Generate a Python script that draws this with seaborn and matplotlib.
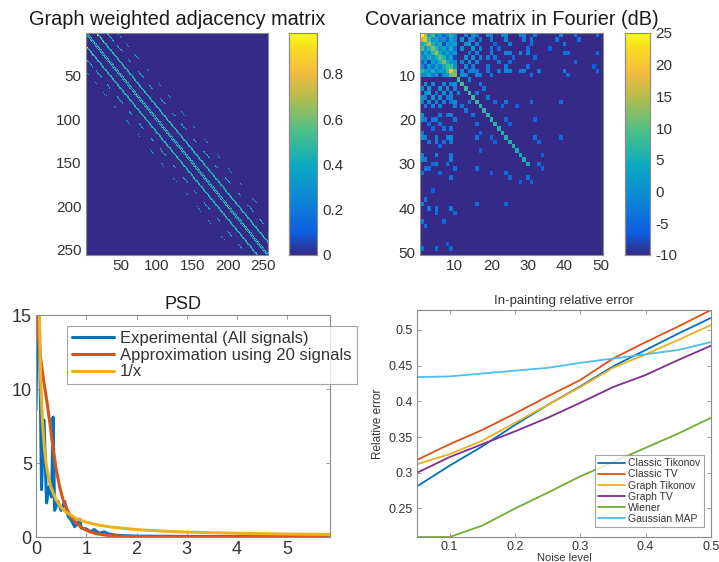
import numpy as np
import matplotlib
matplotlib.use("Agg")
import matplotlib.pyplot as plt
import seaborn as sns
from matplotlib.colors import LinearSegmentedColormap

sns.set_theme(style="white")
plt.rcParams["font.family"] = ["Liberation Sans", "DejaVu Sans"]

TXT = "#333333"
EDGE = "#8c8c8c"

# MATLAB-like parula colormap
parula = LinearSegmentedColormap.from_list("parula", [
    (0.00, (0.2081, 0.1663, 0.5292)),
    (0.10, (0.0600, 0.3700, 0.8800)),
    (0.25, (0.0500, 0.5200, 0.8400)),
    (0.40, (0.0400, 0.6600, 0.7600)),
    (0.55, (0.2800, 0.7500, 0.5500)),
    (0.70, (0.6800, 0.7400, 0.3200)),
    (0.82, (0.9600, 0.7300, 0.2400)),
    (0.92, (0.9700, 0.8500, 0.1500)),
    (1.00, (0.9763, 0.9831, 0.0538)),
])

# ---------------- graph weighted adjacency matrix ----------------
n_nodes = 256
band_offsets = [1, 2, 14, 15, 16, 29, 30, 44]
band_weights = [0.50, 0.35, 0.40, 0.52, 0.36, 0.45, 0.30, 0.42]
full = [(0, 256)]
dash_29 = [(0, 10), (14, 22), (30, 34), (44, 52), (60, 64), (75, 82), (92, 96), (104, 112),
           (122, 126), (136, 144), (152, 156), (166, 174), (184, 188), (198, 206), (214, 220)]
dash_44 = [(0, 6), (12, 16), (24, 30), (40, 44), (56, 62), (72, 76), (90, 96), (106, 110),
           (122, 128), (140, 144), (156, 162), (172, 176), (190, 196)]
band_segments = [full, full, full, full, full, dash_29, dash_29, dash_44]
# a few strong links among the first nodes
strong_links = [(2, 16, 0.98), (5, 20, 0.82), (1, 31, 0.78), (9, 24, 0.80)]

adj = np.zeros((n_nodes, n_nodes))
for off, w, segs in zip(band_offsets, band_weights, band_segments):
    for a, b in segs:
        for r in range(a, min(b, n_nodes - off)):
            adj[r, r + off] = w
            adj[r + off, r] = w
for i, j, w in strong_links:
    adj[i, j] = adj[j, i] = w

adj_ticks = [50, 100, 150, 200, 250]
adj_cbar_ticks = [0, 0.2, 0.4, 0.6, 0.8]

# ---------------- covariance matrix in Fourier (dB) ----------------
cov_n = 50
cov_floor = -10.0
cov_diag = [23, 18, 15, 12, 14, 10, 12, 9, 19, 13,
            9, 9, 8, 8, 8, 8, 7, 7, 7, 7,
            7, 6, 6, 6, 6, 6, 5, 5, 5, 5]
# upper triangle of the low-frequency 10x10 block (row i, columns i+1..10)
cov_block_upper = [
    [16, 4, 9, -3, 2, -6, 0, 6, 1],
    [8, 2, 4, -2, 1, -7, 3, -1],
    [6, 0, 5, -8, 2, 0, 4],
    [7, 1, 3, -3, 5, -4],
    [5, 0, 4, -2, 2],
    [6, -2, 3, -8],
    [5, 1, 0],
    [8, 2],
    [11],
]
# remaining couplings (i, j, dB), 1-based, mirrored across the diagonal
cov_links = [
    (1, 13, -1), (1, 15, 1), (1, 16, -2), (1, 19, 0), (1, 20, -1), (1, 23, -2), (1, 24, 0),
    (1, 28, -1), (1, 29, -1), (1, 32, -3), (1, 39, -1), (1, 43, -3), (1, 49, -4),
    (2, 12, 2), (2, 14, 0), (2, 15, -1), (2, 17, -2), (2, 20, -2), (2, 24, -1), (2, 29, -2),
    (2, 31, -3), (2, 38, -3), (2, 44, -4),
    (3, 13, 1), (3, 14, 3), (3, 16, 0), (3, 21, -5), (3, 25, -3), (3, 31, -4), (3, 40, -3),
    (4, 12, 0), (4, 15, 2), (4, 17, -1), (4, 20, -3), (4, 22, -5), (4, 30, -5), (4, 36, -6),
    (5, 14, -3), (5, 16, -1), (5, 20, -2), (5, 24, -1), (5, 25, -2), (5, 28, -1), (5, 30, -2),
    (5, 40, -3), (5, 41, -4), (5, 49, -4),
    (6, 13, 1), (6, 15, 0), (6, 17, -1), (6, 19, -2), (6, 21, -3), (6, 26, -5), (6, 32, -5),
    (7, 12, -1), (7, 14, 1), (7, 16, -1), (7, 22, -3), (7, 25, -4), (7, 43, -5),
    (8, 13, 0), (8, 15, -2), (8, 19, -3), (8, 24, -2), (8, 30, -4), (8, 48, -6),
    (9, 12, -1), (9, 14, -2), (9, 15, -1), (9, 16, -3), (9, 19, -2), (9, 22, -3), (9, 24, -1),
    (9, 25, -2), (9, 28, -3), (9, 29, -2), (9, 33, -3), (9, 40, -2), (9, 49, -5),
    (10, 12, 1), (10, 13, -1), (10, 16, 0), (10, 17, -2), (10, 20, -3), (10, 31, -4), (10, 41, -5),
    (11, 14, -1), (12, 17, -2), (13, 18, -3), (14, 16, -2), (15, 19, -3),
    (16, 21, -4), (16, 24, -3), (16, 31, -4), (16, 39, -4), (17, 23, -5), (17, 27, -6),
    (20, 24, -5), (20, 32, -6), (21, 25, -6), (24, 32, -4), (24, 39, -5),
    (25, 33, -5), (28, 34, -6), (30, 33, -4), (31, 34, -5),
]
cov_ticks = [10, 20, 30, 40, 50]
cov_cbar_ticks = [-10, -5, 0, 5, 10, 15, 20, 25]

cov = np.full((cov_n, cov_n), cov_floor)
for k, v in enumerate(cov_diag):
    cov[k, k] = v
for i, row in enumerate(cov_block_upper):
    for dj, v in enumerate(row):
        j = i + 1 + dj
        cov[i, j] = cov[j, i] = v
for i, j, v in cov_links:
    cov[i - 1, j - 1] = cov[j - 1, i - 1] = v
cov[0, 0] = 25

# ---------------- PSD ----------------
psd_exp_x = [0.00, 0.03, 0.07, 0.11, 0.16, 0.21, 0.26, 0.31, 0.34, 0.37, 0.44, 0.50,
             0.57, 0.64, 0.70, 0.77, 0.84, 0.87, 0.90, 1.00, 1.08, 1.16, 1.26, 1.36,
             1.45, 1.60, 1.80, 2.00, 2.50, 3.00, 4.00, 5.00, 5.85]
psd_exp_y = [8.6, 16.0, 14.0, 3.2, 7.9, 2.3, 3.4, 2.7, 8.1, 1.8, 2.4, 1.8,
             2.4, 1.4, 1.15, 0.7, 1.0, 1.2, 0.6, 0.55, 0.35, 0.5, 0.25, 0.35,
             0.2, 0.12, 0.08, 0.06, 0.05, 0.04, 0.03, 0.02, 0.02]
psd_fit_x = [0.00, 0.04, 0.08, 0.15, 0.22, 0.28, 0.34, 0.40, 0.47, 0.54, 0.62, 0.70,
             0.80, 0.92, 1.05, 1.20, 1.40, 1.60, 1.80, 2.20, 3.00, 4.00, 5.00, 5.85]
psd_fit_y = [16.5, 14.0, 12.4, 10.6, 9.1, 7.6, 6.0, 4.6, 3.4, 2.5, 1.85, 1.35,
             0.95, 0.6, 0.38, 0.22, 0.12, 0.07, 0.04, 0.02, 0.01, 0.01, 0.01, 0.01]
psd_inv_x = [0.06, 0.08, 0.10, 0.13, 0.17, 0.20, 0.25, 0.30, 0.40, 0.50, 0.60, 0.80,
             1.00, 1.25, 1.50, 2.00, 2.50, 3.00, 4.00, 5.00, 5.85]
psd_inv_y = [16.7, 12.5, 10.0, 7.69, 5.88, 5.0, 4.0, 3.33, 2.5, 2.0, 1.67, 1.25,
             1.0, 0.8, 0.67, 0.5, 0.4, 0.33, 0.25, 0.2, 0.17]
psd_labels = ["Experimental (All signals)", "Approximation using 20 signals", "1/x"]

# ---------------- in-painting relative error ----------------
noise_levels = [0.05, 0.10, 0.15, 0.20, 0.25, 0.30, 0.35, 0.40, 0.45, 0.50]
err_classic_tikonov = [0.281, 0.310, 0.337, 0.367, 0.395, 0.421, 0.449, 0.472, 0.495, 0.517]
err_classic_tv = [0.318, 0.340, 0.360, 0.383, 0.407, 0.430, 0.460, 0.483, 0.505, 0.528]
err_graph_tikonov = [0.312, 0.326, 0.345, 0.370, 0.395, 0.420, 0.447, 0.466, 0.486, 0.507]
err_graph_tv = [0.300, 0.322, 0.340, 0.358, 0.377, 0.398, 0.420, 0.437, 0.458, 0.478]
err_wiener = [0.210, 0.210, 0.226, 0.250, 0.272, 0.295, 0.315, 0.335, 0.355, 0.377]
err_gaussian_map = [0.434, 0.435, 0.439, 0.443, 0.447, 0.454, 0.460, 0.466, 0.472, 0.483]
method_names = ["Classic Tikonov", "Classic TV", "Graph Tikonov", "Graph TV", "Wiener", "Gaussian MAP"]
method_errors = [err_classic_tikonov, err_classic_tv, err_graph_tikonov, err_graph_tv,
                 err_wiener, err_gaussian_map]

matlab_colors = ["#0072BD", "#D95319", "#EDB120", "#7E2F8E", "#77AC30", "#4DBEEE"]

# ---------------- figure ----------------
W, H = 719, 562
fig = plt.figure(figsize=(W / 100, H / 100), dpi=100)


def place(left, top, right, bottom):
    return fig.add_axes([left / W, 1 - bottom / H, (right - left) / W, (bottom - top) / H])


def style_box(ax, size, mirror=True):
    for s in ax.spines.values():
        s.set_visible(True)
        s.set_color(EDGE)
        s.set_linewidth(0.8)
    ax.tick_params(direction="in", length=3, width=0.6, color=EDGE, labelsize=size,
                   labelcolor=TXT, top=mirror, right=mirror, bottom=True, left=True,
                   labeltop=False, labelright=False, pad=3)


def style_cbar(cax, ticks, size):
    cax.set_yticks(ticks)
    cax.set_yticklabels([f"{t:g}" for t in ticks])
    cax.tick_params(direction="in", length=3, width=0.6, color=EDGE, labelsize=size,
                    labelcolor=TXT, right=True, left=False, labelright=True, pad=4)
    for s in cax.spines.values():
        s.set_visible(True)
        s.set_color(EDGE)
        s.set_linewidth(0.8)


ax1 = place(86, 33, 268, 255)
cax1 = place(289, 33, 317, 255)
ax2 = place(420, 33, 603, 255)
cax2 = place(625, 33, 650, 255)
ax3 = place(36, 315, 330, 537)
ax4 = place(417, 310, 711, 537)

# adjacency heatmap
sns.heatmap(adj, ax=ax1, cbar_ax=cax1, cmap=parula, vmin=0, vmax=adj.max(),
            xticklabels=False, yticklabels=False, rasterized=True)
ax1.set_xticks([t - 0.5 for t in adj_ticks])
ax1.set_xticklabels([str(t) for t in adj_ticks])
ax1.set_yticks([t - 0.5 for t in adj_ticks])
ax1.set_yticklabels([str(t) for t in adj_ticks], rotation=0)
style_box(ax1, 11)
ax1.set_title("Graph weighted adjacency matrix", fontsize=14.3, color="#1a1a1a", pad=6)
style_cbar(cax1, adj_cbar_ticks, 11)

# covariance heatmap
sns.heatmap(cov, ax=ax2, cbar_ax=cax2, cmap=parula, vmin=cov.min(), vmax=cov.max(),
            xticklabels=False, yticklabels=False, rasterized=True)
ax2.set_xticks([t - 0.5 for t in cov_ticks])
ax2.set_xticklabels([str(t) for t in cov_ticks])
ax2.set_yticks([t - 0.5 for t in cov_ticks])
ax2.set_yticklabels([str(t) for t in cov_ticks], rotation=0)
style_box(ax2, 11)
ax2.set_title("Covariance matrix in Fourier (dB)", fontsize=14.3, color="#1a1a1a", pad=6)
style_cbar(cax2, cov_cbar_ticks, 11)

# PSD
sns.lineplot(x=psd_exp_x, y=psd_exp_y, ax=ax3, color=matlab_colors[0], lw=2.2,
             label=psd_labels[0], estimator=None, sort=False)
sns.lineplot(x=psd_fit_x, y=psd_fit_y, ax=ax3, color=matlab_colors[1], lw=2.2,
             label=psd_labels[1], estimator=None, sort=False)
sns.lineplot(x=psd_inv_x, y=psd_inv_y, ax=ax3, color=matlab_colors[2], lw=2.2,
             label=psd_labels[2], estimator=None, sort=False)
ax3.set_xlim(0, 5.85)
ax3.set_ylim(0, 15)
ax3.set_xticks([0, 1, 2, 3, 4, 5])
ax3.set_yticks([0, 5, 10, 15])
style_box(ax3, 13)
ax3.set_title("PSD", fontsize=13, color="#1a1a1a", pad=4)
leg3 = ax3.legend(loc="upper left", bbox_to_anchor=(0.105, 0.95), fontsize=12,
                  frameon=True, fancybox=False, handlelength=2.5, borderpad=0.3,
                  labelspacing=0.1, handletextpad=0.4, borderaxespad=0)
leg3.get_frame().set_edgecolor(EDGE)
leg3.get_frame().set_linewidth(0.8)
for t in leg3.get_texts():
    t.set_color(TXT)

# in-painting relative error
for name, errs, col in zip(method_names, method_errors, matlab_colors):
    sns.lineplot(x=noise_levels, y=errs, ax=ax4, color=col, lw=1.3, label=name,
                 estimator=None)
ax4.set_xlim(0.05, 0.5)
ax4.set_ylim(0.21, 0.528)
ax4.set_xticks([0.1, 0.2, 0.3, 0.4, 0.5])
ax4.set_yticks([0.25, 0.3, 0.35, 0.4, 0.45, 0.5])
ax4.set_xticklabels(["0.1", "0.2", "0.3", "0.4", "0.5"])
ax4.set_yticklabels(["0.25", "0.3", "0.35", "0.4", "0.45", "0.5"])
style_box(ax4, 9)
ax4.set_title("In-painting relative error", fontsize=9.5, color="#333333", pad=4)
ax4.set_xlabel("Noise level", fontsize=8, color=TXT, labelpad=0)
ax4.set_ylabel("Relative error", fontsize=8.5, color=TXT, labelpad=3)
leg4 = ax4.legend(loc="lower right", bbox_to_anchor=(0.975, 0.045), fontsize=7.5,
                  frameon=True, fancybox=False, handlelength=2.6, borderpad=0.3,
                  labelspacing=0.1, handletextpad=0.3, borderaxespad=0)
leg4.get_frame().set_edgecolor(EDGE)
leg4.get_frame().set_linewidth(0.8)
for t in leg4.get_texts():
    t.set_color(TXT)

fig.savefig("out.png", dpi=100, facecolor="white")
